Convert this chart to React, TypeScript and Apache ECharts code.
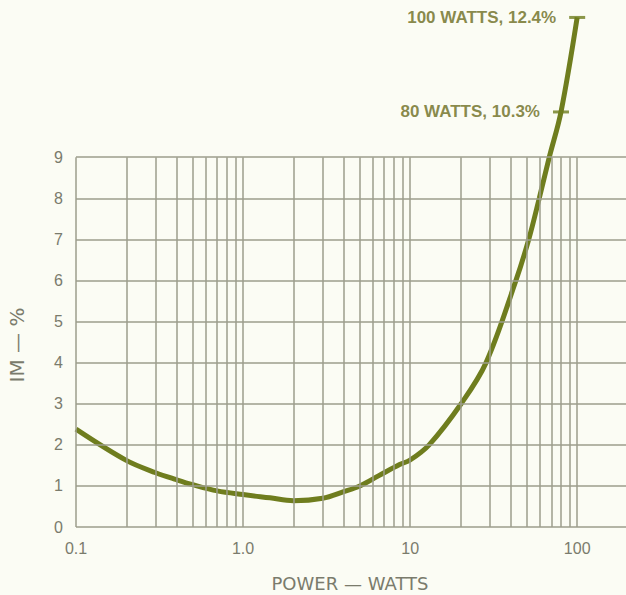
import React, { useEffect, useRef } from "react";
import * as echarts from "echarts";

// Curve: power (W) vs intermodulation distortion (%)
const powerWatts = [0.1, 0.2, 0.3, 0.4, 0.5, 0.7, 1.0, 1.45, 2.0, 3.0, 4.0, 5.0, 6.5, 8.65, 10, 13, 20.2, 28.5, 43, 51.3, 59.3, 68.1, 80, 100];
const imPercent = [2.38, 1.62, 1.32, 1.15, 1.03, 0.88, 0.79, 0.71, 0.64, 0.7, 0.86, 1.0, 1.25, 1.52, 1.63, 2.0, 3.0, 4.0, 6.0, 7.0, 8.0, 9.0, 10.1, 12.4];

// Grid / tick values
const yGridValues = [0, 1, 2, 3, 4, 5, 6, 7, 8, 9];
const xGridValues = [
  0.1, 0.2, 0.3, 0.4, 0.5, 0.6, 0.7, 0.8, 0.9,
  1, 2, 3, 4, 5, 6, 7, 8, 9,
  10, 20, 30, 40, 50, 60, 70, 80, 90, 100,
];
const xMajorTicks = [0.1, 1, 10, 100];
const xMajorLabels = ["0.1", "1.0", "10", "100"];

// Annotated points
const markerPower = [100, 80];
const markerIM = [12.4, 10.1];
const markerText = ["100 WATTS, 12.4%", "80 WATTS, 10.3%"];

const X_MIN = 0.1;
const X_MAX = 196;
const Y_MAX = 12.8;
const GRID_TOP_VALUE = 9;

const GRID_COLOR = "#9d9e8d";
const LABEL_COLOR = "#7a7b6c";
const CURVE_COLOR = "#6f7d1e";
const NOTE_COLOR = "#6a6b1c";

export default function App() {
  const ref = useRef<HTMLDivElement>(null);

  useEffect(() => {
    if (!ref.current) return;
    const chart = echarts.init(ref.current, null, { renderer: "svg" });

    const gridLines: any[] = [];
    xGridValues.forEach((x) => {
      gridLines.push([{ coord: [x, 0] }, { coord: [x, GRID_TOP_VALUE] }]);
    });
    yGridValues.forEach((y) => {
      gridLines.push([{ coord: [X_MIN, y] }, { coord: [X_MAX, y] }]);
    });

    const option: any = {
      animation: false,
      backgroundColor: "#fbfcf4",
      grid: { left: 76, right: 0, top: 1, bottom: 68, containLabel: false },
      xAxis: {
        type: "log",
        logBase: 10,
        min: X_MIN,
        max: X_MAX,
        axisLine: { show: false },
        axisTick: { show: false },
        splitLine: { show: false },
        axisLabel: {
          show: true,
          margin: 13,
          color: LABEL_COLOR,
          fontFamily: "Liberation Sans",
          fontSize: 16,
          showMaxLabel: false,
          formatter: (v: number) => {
            const i = xMajorTicks.findIndex(
              (m) => Math.abs(Math.log10(v) - Math.log10(m)) < 1e-6
            );
            return i >= 0 ? xMajorLabels[i] : "";
          },
        },
      },
      yAxis: {
        type: "value",
        min: 0,
        max: Y_MAX,
        interval: 1,
        axisLine: { show: false },
        axisTick: { show: false },
        splitLine: { show: false },
        axisLabel: {
          margin: 13,
          color: LABEL_COLOR,
          fontFamily: "Liberation Sans",
          fontSize: 16,
          showMaxLabel: false,
          formatter: (v: number) => (v <= GRID_TOP_VALUE ? String(v) : ""),
        },
      },
      graphic: [
        {
          type: "text",
          x: 350,
          y: 583,
          style: {
            text: "POWER — WATTS",
            fill: LABEL_COLOR,
            font: '18px "DejaVu Sans"',
            align: "center",
            verticalAlign: "middle",
          },
        },
        {
          type: "text",
          x: 17,
          y: 345,
          rotation: Math.PI / 2,
          style: {
            text: "IM — %",
            fill: LABEL_COLOR,
            font: '20px "DejaVu Sans"',
            align: "center",
            verticalAlign: "middle",
          },
        },
      ],
      series: [
        {
          type: "line",
          data: [],
          z: 1,
          silent: true,
          markLine: {
            silent: true,
            symbol: ["none", "none"],
            label: { show: false },
            lineStyle: { color: GRID_COLOR, width: 1.5, type: "solid" },
            data: gridLines,
          },
        },
        {
          type: "line",
          z: 3,
          smooth: 0.35,
          showSymbol: false,
          symbol: "none",
          lineStyle: { color: CURVE_COLOR, width: 5 },
          data: powerWatts.map((p, i) => [p, imPercent[i]]),
        },
        {
          type: "scatter",
          z: 4,
          symbol: "rect",
          symbolSize: [16, 3],
          itemStyle: { color: CURVE_COLOR },
          data: markerPower.map((p, i) => [p, markerIM[i]]),
          label: {
            show: true,
            position: "left",
            distance: 13,
            color: NOTE_COLOR,
            fontFamily: "Liberation Sans",
            fontWeight: "bold",
            fontSize: 17,
            formatter: (p: any) => markerText[p.dataIndex],
          },
        },
      ],
    };

    chart.setOption(option);
    return () => chart.dispose();
  }, []);

  return (
    <div
      ref={ref}
      style={{ position: "fixed", left: 0, top: 0, width: 626, height: 595 }}
    />
  );
}
